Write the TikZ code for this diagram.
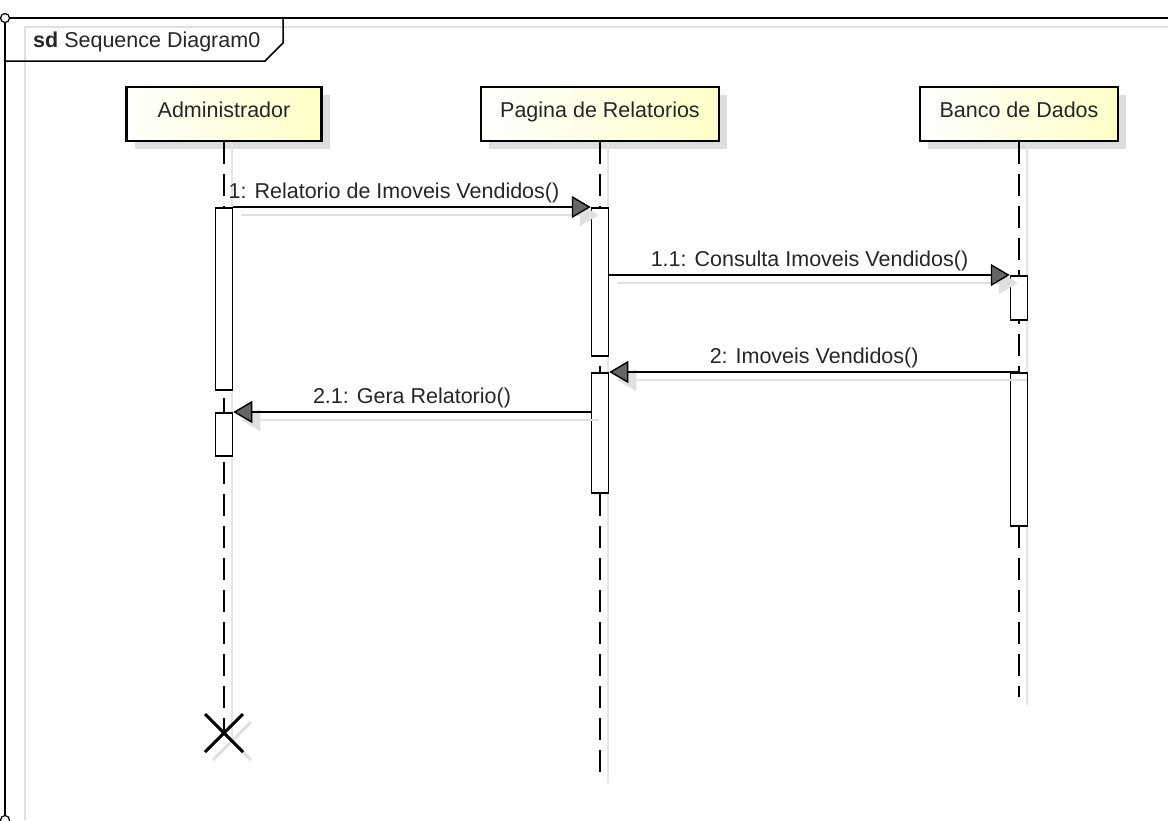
\documentclass[tikz,border=0pt]{standalone}
\usepackage{fontspec}
\setmainfont{Liberation Sans}
\usetikzlibrary{arrows.meta,shadows}

\begin{document}
\begin{tikzpicture}[x=1pt, y=-1pt,
	font=\fontsize{21.5}{24}\selectfont,
	head/.style={draw=black, line width=2.5pt, left color=white, right color=yellow!22, minimum height=54pt, inner sep=0pt, text=black!85,
		text height=15pt, text depth=9pt,
		drop shadow={shadow xshift=8pt, shadow yshift=-8pt, fill=black!13, opacity=1}},
	life/.style={line width=1.6pt, dash pattern=on 22pt off 10pt},
	lifeshadow/.style={line width=1.5pt, black!10},
	bar/.style={draw, line width=1.5pt, fill=white, minimum width=17pt, inner sep=0pt, anchor=north},
	msg/.style={line width=1.4pt, -{Triangle[length=19pt, width=22pt, fill=black!60]},
		preaction={draw=black!12, line width=1.5pt, transform canvas={shift={(8pt,-8pt)}}, -{Triangle[length=19pt, width=22pt, fill=black!12]}}},
	lbl/.style={above=3pt, inner sep=0pt, text=black!85},
	xmark/.style={line width=3pt}]
	\useasboundingbox (0,0) rectangle (1168,820);
	% frame
	\draw[black!12, line width=1.2pt] (25,820) -- (25,27) -- (1168,27);
	\draw[line width=1.5pt] (5,820) -- (5,18) -- (1168,18);
	\draw[line width=1.5pt] (5,61) -- (265,61) -- (283,43) -- (283,18);
	\node[anchor=base west, inner sep=0pt, text=black!85] (title) at (33,47) {\textbf{sd} Sequence Diagram0};
	\draw[fill=white, line width=1.2pt] (5,18) circle[radius=4.5pt] (5,820) circle[radius=4.5pt];
	
	% lifelines
	\node[head, minimum width=195pt] (adm) at (224,114) {Administrador};
	\node[head, minimum width=238pt] (pag) at (600,114) {Pagina de Relatorios};
	\node[head, minimum width=198pt] (ban) at (1019,114) {Banco de Dados};
	\coordinate (admend) at (224,733);
	\coordinate (pagend) at (600,775);
	\coordinate (banend) at (1019,697);
	\foreach \h/\e in {adm/admend, pag/pagend, ban/banend}
		\draw[lifeshadow] ([xshift=8pt]\h.south) -- ([shift={(8,8)}]\e);
	\foreach \h/\e in {adm/admend, pag/pagend, ban/banend}
		\draw[life] (\h.south) -- (\e);
	\draw[xmark, black!12] ([shift={(-11,-11)}]admend) -- ([shift={(27,27)}]admend)
		([shift={(-11,27)}]admend) -- ([shift={(27,-11)}]admend);
	\draw[xmark] ([shift={(-19,-19)}]admend) -- ([shift={(19,19)}]admend)
		([shift={(-19,19)}]admend) -- ([shift={(19,-19)}]admend);
	
	% activations
	\node[bar, minimum height=182pt] (a1) at (224,207) {};
	\node[bar, minimum height=43pt] (a2) at (224,412) {};
	\node[bar, minimum height=148pt] (p1) at (600,207) {};
	\node[bar, minimum height=120pt] (p2) at (600,372) {};
	\node[bar, minimum height=44pt] (b1) at (1019,275) {};
	\node[bar, minimum height=153pt] (b2) at (1019,372) {};
	
	% messages
	\draw[msg] (a1.north east) -- node[lbl, xshift=-18pt] {1: Relatorio de Imoveis Vendidos()} (p1.north west);
	\draw[msg] (p1.east |- b1.north) -- node[lbl] {1.1: Consulta Imoveis Vendidos()} (b1.north west);
	\draw[msg] (b2.north) -- node[lbl] {2: Imoveis Vendidos()} (p2.north east);
	\draw[msg] (p2.west |- a2.north) -- node[lbl] {2.1: Gera Relatorio()} (a2.north east);
\end{tikzpicture}
\end{document}
